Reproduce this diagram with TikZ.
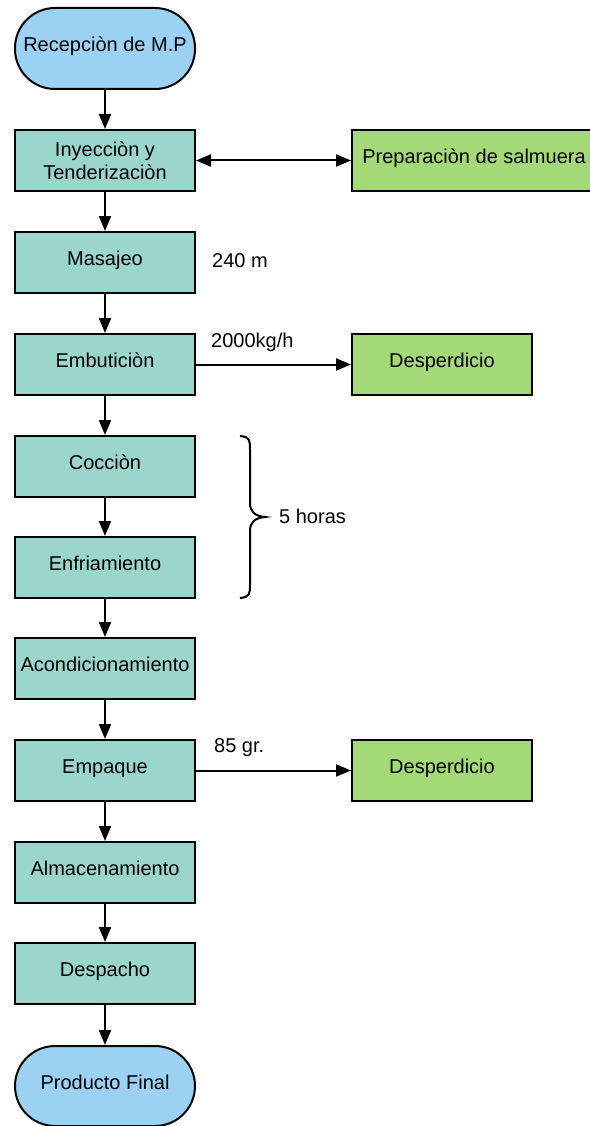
\documentclass[tikz,border=0pt]{standalone}
\usepackage{fontspec}
\setmainfont{Liberation Sans}
\usetikzlibrary{arrows.meta}
\definecolor{procfill}{RGB}{155,214,203}
\definecolor{termfill}{RGB}{155,210,243}
\definecolor{sidefill}{RGB}{163,217,119}
\begin{document}
\begin{tikzpicture}[x=1pt,y=-1pt,
  base/.style={draw=black, line width=2pt, inner sep=0pt, align=center,
    font=\fontsize{20}{23}\selectfont, minimum width=180pt, minimum height=61pt},
  one/.style={text height=0.85em, text depth=0.25em},
  proc/.style={base, one, fill=procfill},
  term/.style={base, one, fill=termfill, rounded corners=40pt, minimum height=81pt},
  side/.style={base, one, fill=sidefill},
  lbl/.style={font=\fontsize{20}{23}\selectfont, inner sep=0pt, anchor=west},
  tip/.tip={Triangle[length=15pt,width=12pt]},
  arr/.style={-tip, line width=2pt},
  darr/.style={tip-tip, line width=2pt}]
\useasboundingbox (0,0) rectangle (589,1126);
\node[term] (rec) at (105,48.5) {Recepciòn de M.P};
\node[base, fill=procfill] (iny) at (105,160.5) {Inyecciòn y\\Tenderizaciòn};
\node[side, minimum width=244pt] (prep) at (474,160.5) {Preparaciòn de salmuera};
\node[proc] (mas) at (105,262.5) {Masajeo};
\node[proc] (emb) at (105,364.5) {Embuticiòn};
\node[side] (des1) at (442,364.5) {Desperdicio};
\node[proc] (coc) at (105,466.5) {Cocciòn};
\node[proc] (enf) at (105,567.5) {Enfriamiento};
\node[proc] (aco) at (105,668.5) {Acondicionamiento};
\node[proc] (emp) at (105,770.5) {Empaque};
\node[side] (des2) at (442,770.5) {Desperdicio};
\node[proc] (alm) at (105,872.5) {Almacenamiento};
\node[proc] (des) at (105,973.5) {Despacho};
\node[term, minimum height=80pt] (fin) at (105,1086) {Producto Final};

\node[lbl] (l240) at (212,261) {240 m};
\node[lbl] (l2000) at (211,342) {2000kg/h};
\node[lbl] (l85) at (214,748) {85 gr.};
\node[lbl] (l5h) at (279,516) {5 horas};

\draw[arr] (rec) -- (iny);
\draw[darr] (iny) -- (prep);
\draw[arr] (iny) -- (mas);
\draw[arr] (mas) -- (emb);
\draw[arr] (emb) -- (des1);
\draw[arr] (emb) -- (coc);
\draw[arr] (coc) -- (enf);
\draw[arr] (enf) -- (aco);
\draw[arr] (aco) -- (emp);
\draw[arr] (emp) -- (des2);
\draw[arr] (emp) -- (alm);
\draw[arr] (alm) -- (des);
\draw[arr] (des) -- (fin);

\draw[line width=2pt] (240,436) .. controls (250,437) and (250,440) .. (250,450)
  -- (250,503) .. controls (250,512) and (255,516) .. (265,517)
  .. controls (255,518) and (250,522) .. (250,531)
  -- (250,584) .. controls (250,594) and (250,597) .. (240,598);
\end{tikzpicture}
\end{document}
